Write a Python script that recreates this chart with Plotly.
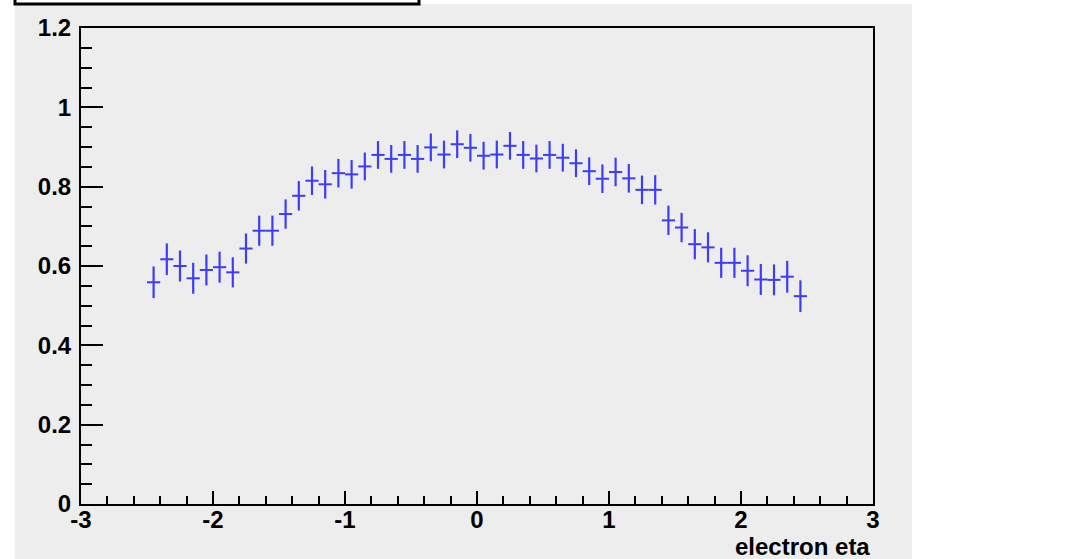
import plotly.graph_objects as go

# electron eta bin centres (50 bins of width 0.1 from -2.5 to 2.5)
eta = [round(-2.45 + 0.1 * i, 2) for i in range(50)]
eta_halfwidth = [0.05] * 50

efficiency = [
    0.559, 0.617, 0.600, 0.569, 0.590, 0.597, 0.584, 0.644, 0.689, 0.689,
    0.731, 0.777, 0.815, 0.806, 0.834, 0.831, 0.851, 0.880, 0.870, 0.880,
    0.870, 0.899, 0.881, 0.907, 0.898, 0.878, 0.881, 0.903, 0.880, 0.871,
    0.880, 0.873, 0.859, 0.839, 0.820, 0.837, 0.821, 0.792, 0.792, 0.715,
    0.697, 0.655, 0.647, 0.608, 0.608, 0.588, 0.566, 0.565, 0.573, 0.524,
]

eff_error = [
    0.040, 0.040, 0.039, 0.039, 0.039, 0.039, 0.038, 0.038, 0.038, 0.038,
    0.037, 0.037, 0.036, 0.036, 0.036, 0.036, 0.035, 0.035, 0.035, 0.035,
    0.035, 0.035, 0.035, 0.035, 0.035, 0.035, 0.035, 0.035, 0.035, 0.035,
    0.035, 0.035, 0.035, 0.035, 0.036, 0.036, 0.036, 0.036, 0.037, 0.037,
    0.037, 0.038, 0.038, 0.038, 0.038, 0.039, 0.039, 0.039, 0.040, 0.040,
]

x_ticks = [-3, -2, -1, 0, 1, 2, 3]
y_ticks = [0, 0.2, 0.4, 0.6, 0.8, 1.0, 1.2]
y_tick_labels = ["0", "0.2", "0.4", "0.6", "0.8", "1", "1.2"]

BLUE = "#3c3cff"
PAD = "#ededed"
FONT = dict(family="Liberation Sans, Arial, sans-serif", size=24, color="black", weight="bold")

fig = go.Figure()
fig.add_trace(go.Scatter(
    x=eta, y=efficiency, mode="markers",
    marker=dict(size=0.1, color=BLUE, opacity=0),
    error_y=dict(type="data", array=eff_error, color=BLUE, thickness=2.2, width=0),
    error_x=dict(type="data", array=eta_halfwidth, color=BLUE, thickness=2, width=0),
    showlegend=False, hoverinfo="x+y",
))

W, H = 1065, 559
L, R, T, B = 81, 873, 28, 504
pw, ph = R - L, B - T

def px(x):
    return (x - L) / pw

def py(y):
    return (B - y) / ph

shapes = [
    # grey pad
    dict(type="rect", xref="paper", yref="paper", x0=px(15), x1=px(912), y0=py(559), y1=py(4),
         fillcolor=PAD, line=dict(width=0), layer="below"),
    # title box (mostly cut off at the top)
    dict(type="rect", xref="paper", yref="paper", x0=px(15), x1=px(419), y0=py(4), y1=py(-20),
         fillcolor="white", line=dict(color="black", width=3), layer="above"),
]

fig.update_layout(
    width=W, height=H,
    margin=dict(l=L, r=W - R, t=T, b=H - B, pad=0),
    paper_bgcolor="white",
    plot_bgcolor=PAD,
    shapes=shapes,
    font=FONT,
    xaxis=dict(
        range=[-3, 3], tickvals=x_ticks, ticktext=[str(v) for v in x_ticks],
        ticks="inside", ticklen=13, tickwidth=1.5, tickcolor="black",
        minor=dict(dtick=0.2, tick0=-3, ticks="inside", ticklen=8, tickwidth=1.5, tickcolor="black", showgrid=False),
        showgrid=False, zeroline=False, showline=True, linecolor="black", linewidth=2, mirror=True,
        tickfont=FONT, ticklabelstandoff=-7,
    ),
    yaxis=dict(
        range=[0, 1.2], tickvals=y_ticks, ticktext=y_tick_labels,
        ticks="inside", ticklen=22, tickwidth=1.5, tickcolor="black",
        minor=dict(dtick=0.05, tick0=0, ticks="inside", ticklen=11, tickwidth=1.5, tickcolor="black", showgrid=False),
        showgrid=False, zeroline=False, showline=True, linecolor="black", linewidth=2, mirror=True,
        tickfont=FONT, ticklabelstandoff=3,
    ),
    annotations=[
        dict(text="electron eta", xref="paper", yref="paper", x=px(872), y=py(546),
             xanchor="right", yanchor="middle", showarrow=False, font=FONT),
    ],
)

fig.write_html("out.html")
